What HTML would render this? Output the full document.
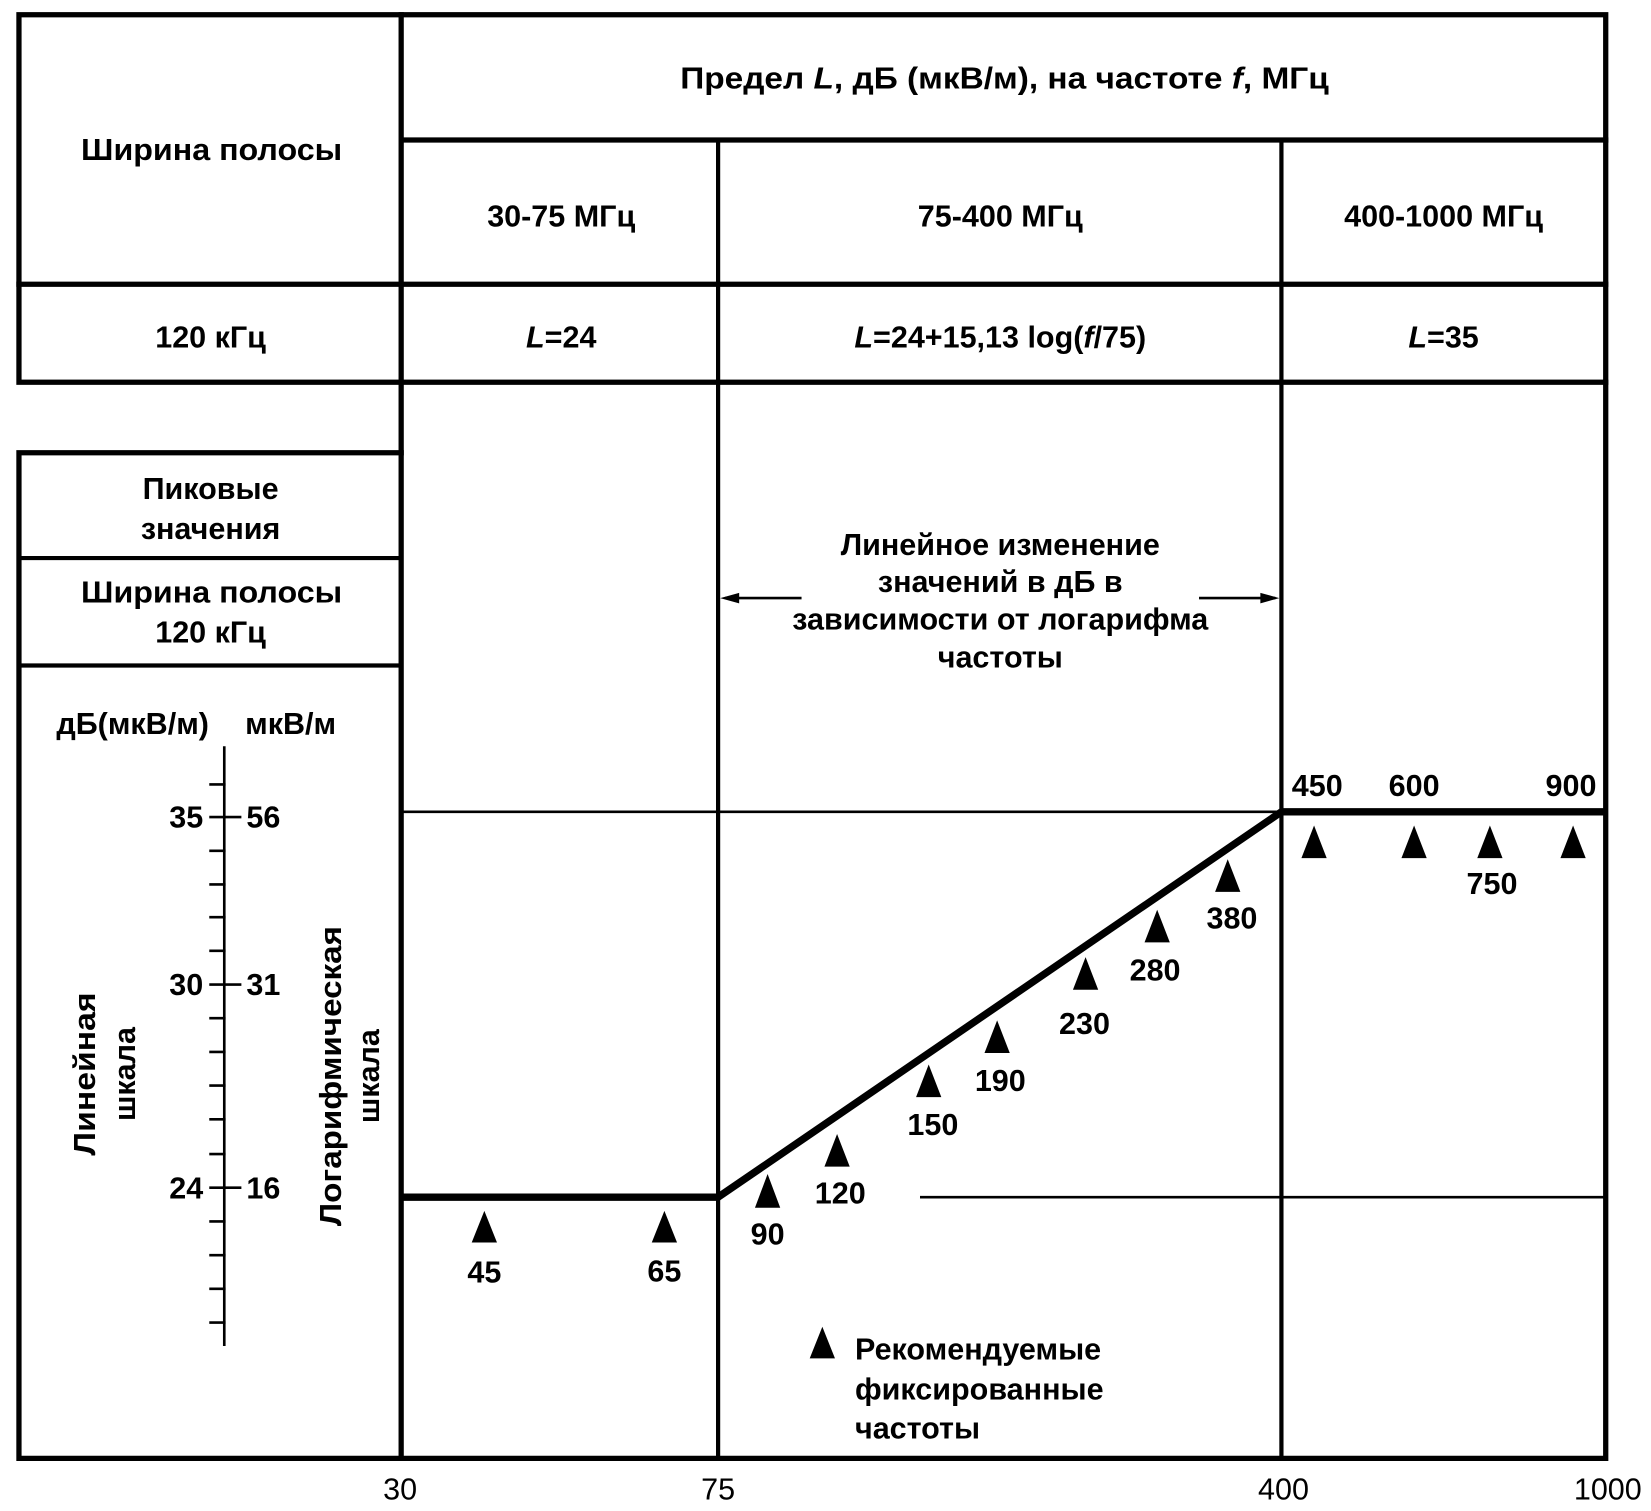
<!DOCTYPE html>
<html><head><meta charset="utf-8"><style>
html,body{margin:0;padding:0;background:#fff;}
svg{display:block}
text{font-family:"Liberation Sans","DejaVu Sans",sans-serif;fill:#000;font-weight:bold;}
</style></head><body>
<svg width="1651" height="1511" viewBox="0 0 1568 1435" preserveAspectRatio="none" xmlns="http://www.w3.org/2000/svg">
<rect width="1568" height="1435" fill="#fff"/>
<g stroke="#000" fill="none" stroke-linecap="square">
<rect x="18" y="14" width="1507" height="349" stroke-width="5"/>
<line x1="381" y1="14" x2="381" y2="1385" stroke-width="5"/>
<line x1="383" y1="133" x2="1525" y2="133" stroke-width="5"/>
<line x1="18" y1="270" x2="1525" y2="270" stroke-width="5"/>
<line x1="682" y1="133" x2="682" y2="1385" stroke-width="4"/>
<line x1="1217" y1="133" x2="1217" y2="1385" stroke-width="4"/>
<polyline points="381,430 18,430 18,1385 1525,1385 1525,363" stroke-width="5"/>
<line x1="18" y1="530" x2="381" y2="530" stroke-width="4"/>
<line x1="18" y1="632" x2="381" y2="632" stroke-width="4"/>
<line x1="383" y1="771" x2="1525" y2="771" stroke-width="2.5"/>
<line x1="875" y1="1137" x2="1525" y2="1137" stroke-width="2.5"/>
<polyline points="383,1137 682,1137 1217,771 1525,771" stroke-width="7" stroke-linecap="butt" stroke-linejoin="miter"/>
<line x1="690" y1="568" x2="760" y2="568" stroke-width="2.5"/>
<line x1="1140" y1="568" x2="1210" y2="568" stroke-width="2.5"/>
<line x1="213" y1="710" x2="213" y2="1277" stroke-width="2.5"/>
<line x1="200" y1="776" x2="228" y2="776" stroke-width="2.5"/>
<line x1="200" y1="935" x2="228" y2="935" stroke-width="2.5"/>
<line x1="200" y1="1128" x2="228" y2="1128" stroke-width="2.5"/>
<path d="M200 745H213M200 808H213M200 840H213M200 871H213M200 903H213M200 967H213M200 999H213M200 1031H213M200 1063H213M200 1096H213M200 1160H213M200 1192H213M200 1224H213M200 1256H213" stroke-width="2.5"/>
</g>
<g fill="#000">
<path d="M684 568l18 -5v10z M1215 568l-18 -5v10z"/>
<path d="M460 1150l-12 30h24z M631 1150l-12 30h24z M729 1115l-12 32h24z M795 1077l-12 31h24z M882 1011l-12 31h24z M947 969l-12 31h24z M1031 909l-12 31h24z M1099 864l-12 31h24z M1166 816l-12 31h24z M1248 784l-12 31h24z M1343 784l-12 31h24z M1415 784l-12 31h24z M1494 784l-12 31h24z M781 1260l-12 30h24z"/>
</g>
<g font-size="29" text-anchor="middle">
<text x="954" y="84" textLength="616" lengthAdjust="spacingAndGlyphs">Предел <tspan font-style="italic">L</tspan>, дБ (мкВ/м), на частоте <tspan font-style="italic">f</tspan>, МГц</text>
<text x="201" y="152" textLength="248" lengthAdjust="spacingAndGlyphs">Ширина полосы</text>
<text x="533" y="215">30-75 МГц</text>
<text x="950" y="215">75-400 МГц</text>
<text x="1371" y="215">400-1000 МГц</text>
<text x="200" y="330">120 кГц</text>
<text x="533" y="330"><tspan font-style="italic">L</tspan>=24</text>
<text x="950" y="330"><tspan font-style="italic">L</tspan>=24+15,13 log(<tspan font-style="italic">f</tspan>/75)</text>
<text x="1371" y="330"><tspan font-style="italic">L</tspan>=35</text>
<text x="200" y="474">Пиковые</text>
<text x="200" y="512">значения</text>
<text x="201" y="572" textLength="248" lengthAdjust="spacingAndGlyphs">Ширина полосы</text>
<text x="200" y="610">120 кГц</text>
<text x="950" y="527">Линейное  изменение</text>
<text x="950" y="562">значений в дБ в</text>
<text x="950" y="598">зависимости от логарифма</text>
<text x="950" y="634">частоты</text>
</g>
<g font-size="29" text-anchor="middle">
<text x="126" y="697">дБ(мкВ/м)</text>
<text x="276" y="697">мкВ/м</text>
<text x="460" y="1218">45</text>
<text x="631" y="1217">65</text>
<text x="729" y="1182">90</text>
<text x="798" y="1143">120</text>
<text x="886" y="1078">150</text>
<text x="950" y="1036">190</text>
<text x="1030" y="982">230</text>
<text x="1097" y="931">280</text>
<text x="1170" y="882">380</text>
<text x="1251" y="756">450</text>
<text x="1343" y="756">600</text>
<text x="1492" y="756">900</text>
<text x="1417" y="849">750</text>
</g>
<g font-size="29" text-anchor="middle" font-weight="normal">
<text x="380" y="1424" style="font-weight:normal">30</text>
<text x="682" y="1424" style="font-weight:normal">75</text>
<text x="1219" y="1424" style="font-weight:normal">400</text>
<text x="1527" y="1424" style="font-weight:normal">1000</text>
</g>
<g font-size="29">
<text x="193" y="786" text-anchor="end">35</text>
<text x="193" y="945" text-anchor="end">30</text>
<text x="193" y="1138" text-anchor="end">24</text>
<text x="234" y="786">56</text>
<text x="234" y="945">31</text>
<text x="234" y="1138">16</text>
<text x="812" y="1291">Рекомендуемые</text>
<text x="812" y="1329">фиксированные</text>
<text x="812" y="1366">частоты</text>
</g>
<g font-size="29" text-anchor="middle">
<text transform="translate(90,1020) rotate(-90)" textLength="155" lengthAdjust="spacingAndGlyphs">Линейная</text>
<text transform="translate(128,1020) rotate(-90)">шкала</text>
<text transform="translate(324,1022) rotate(-90)" textLength="285" lengthAdjust="spacingAndGlyphs">Логарифмическая</text>
<text transform="translate(360,1022) rotate(-90)">шкала</text>
</g>
</svg>
</body></html>
